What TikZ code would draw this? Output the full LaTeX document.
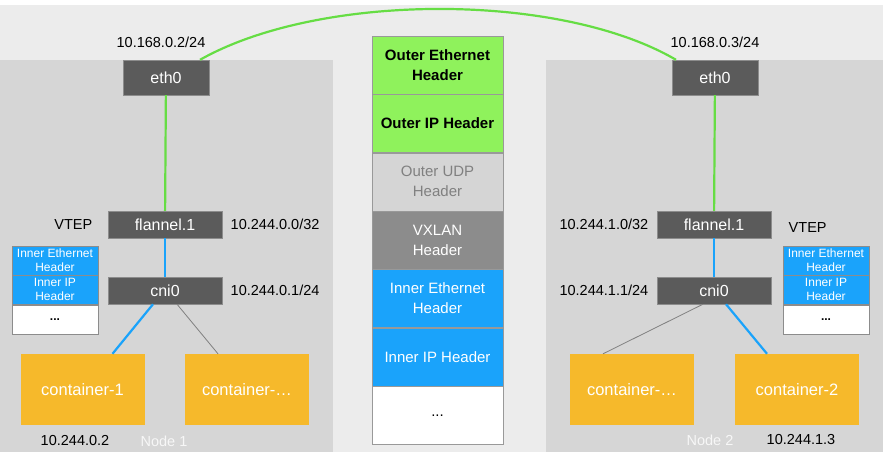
\documentclass[tikz,border=0pt]{standalone}
\usepackage{fontspec}
\setmainfont{Liberation Sans}
\usetikzlibrary{positioning}
\definecolor{bgcol}{HTML}{ECECEC}
\definecolor{panelcol}{HTML}{D6D6D6}
\definecolor{ifcol}{HTML}{5B5B5B}
\definecolor{wirecol}{HTML}{66DD44}
\definecolor{outercol}{HTML}{8FF25C}
\definecolor{innercol}{HTML}{1AA3FB}
\definecolor{udpcol}{HTML}{D5D5D5}
\definecolor{vxlancol}{HTML}{8C8C8C}
\definecolor{podcol}{HTML}{F6B92B}

\begin{document}
\begin{tikzpicture}[x=1pt, y=-1pt, font=\fontsize{14.5}{16}\selectfont,
    iface/.style={fill=ifcol, draw=ifcol!70!white, text=white, minimum width=114pt, minimum height=27pt, inner sep=0pt, font=\fontsize{16}{18}\selectfont},
    pod/.style={fill=podcol, text=white, minimum width=124pt, minimum height=71pt, inner sep=0pt, font=\fontsize{16.5}{18}\selectfont},
    layer/.style={draw=gray!80, minimum width=131pt, minimum height=58pt, inner sep=0pt, align=center, text=white, font=\fontsize{15}{20}\selectfont},
    mini/.style={draw=gray!90, fill=innercol, text=white, minimum width=86pt, minimum height=29pt, inner sep=0pt, align=center, font=\fontsize{12}{14}\selectfont},
    greenwire/.style={draw=wirecol, line width=2.2pt},
    bluewire/.style={draw=innercol, line width=2.2pt},
    graywire/.style={draw=gray, line width=0.8pt},]
    \useasboundingbox (0,0) rectangle (883,452);
    % background and the two hosts
    \fill[bgcol] (0,5) rectangle (883,452);
    \fill[panelcol] (0,60) rectangle (333,452);
    \fill[panelcol] (546,60) rectangle (883,452);

    % node 1
    \node[iface, minimum width=86pt, minimum height=35pt] (ethL) at (166,77.5) {eth0};
    \node (ipL) at (161,42) {10.168.0.2/24};
    \node[iface] (flannelL) at (165,224.5) {flannel.1};
    \node[left=12pt of flannelL] (vtepL) {VTEP};
    \node[right=5pt of flannelL] (netL) {10.244.0.0/32};
    \node[iface] (cniL) at (165,290.5) {cni0};
    \node[right=5pt of cniL] (subnetL) {10.244.0.1/24};
    \node[mini] (ethhdrL) at (55,260.5) {Inner Ethernet\\Header};
    \node[mini, below=0pt of ethhdrL] (iphdrL) {Inner IP\\Header};
    \node[mini, fill=white, text=black, below=0pt of iphdrL] (restL) {\textbf{...}};
    \node[pod] (podA) at (82.5,389.5) {container-1};
    \node[pod] (podL) at (247,389.5) {container-…};
    \node (podAip) at (75,441) {10.244.0.2};
    \node[text=white!94!gray] (hostL) at (164,441) {Node 1};
    \draw[greenwire] (ethL) -- (flannelL);
    \draw[bluewire] (flannelL) -- (cniL);
    \draw[bluewire] ([xshift=-12pt]cniL.south) -- ([xshift=30pt]podA.north);
    \draw[graywire] ([xshift=12pt]cniL.south) -- ([xshift=-29pt]podL.north);

    % node 2
    \node[iface, minimum width=86pt, minimum height=35pt] (ethR) at (715,77.5) {eth0};
    \node (ipR) at (715,42) {10.168.0.3/24};
    \node[iface] (flannelR) at (714,224.5) {flannel.1};
    \node[right=14pt of flannelR, yshift=-3pt] (vtepR) {VTEP};
    \node[left=5pt of flannelR] (netR) {10.244.1.0/32};
    \node[iface] (cniR) at (714,290.5) {cni0};
    \node[left=5pt of cniR] (subnetR) {10.244.1.1/24};
    \node[mini] (ethhdrR) at (826,260.5) {Inner Ethernet\\Header};
    \node[mini, below=0pt of ethhdrR] (iphdrR) {Inner IP\\Header};
    \node[mini, fill=white, text=black, below=0pt of iphdrR] (restR) {\textbf{...}};
    \node[pod] (podR) at (632,389.5) {container-…};
    \node[pod] (podB) at (797,389.5) {container-2};
    \node (podBip) at (801,440) {10.244.1.3};
    \node[text=white!94!gray] (hostR) at (710,440) {Node 2};
    \draw[greenwire] (ethR) -- (flannelR);
    \draw[bluewire] (flannelR) -- (cniR);
    \draw[graywire] ([xshift=-11pt]cniR.south) -- ([xshift=-29pt]podR.north);
    \draw[bluewire] ([xshift=12pt]cniR.south) -- ([xshift=-30pt]podB.north);

    % the tunnel between the hosts
    \draw[greenwire] ([xshift=34pt]ethL.north) .. controls (320,-8) and (560,-8) .. ([xshift=-39pt]ethR.north);

    % vxlan packet
    \node[layer, fill=outercol, text=black, font=\bfseries\fontsize{15}{20}\selectfont] (outerEth) at (437.5,65) {Outer Ethernet\\Header};
    \node[layer, fill=outercol, text=black, font=\bfseries\fontsize{15}{20}\selectfont, below=0pt of outerEth] (outerIp) {Outer IP Header};
    \node[layer, fill=udpcol, text=gray, below=0pt of outerIp] (outerUdp) {Outer UDP\\Header};
    \node[layer, fill=vxlancol, below=0pt of outerUdp] (vxlan) {VXLAN\\Header};
    \node[layer, fill=innercol, below=0pt of vxlan] (innerEth) {Inner Ethernet\\Header};
    \node[layer, fill=innercol, below=0pt of innerEth] (innerIp) {Inner IP Header};
    \node[layer, fill=white, text=black, below=0pt of innerIp] (payload) {...};
\end{tikzpicture}
\end{document}
